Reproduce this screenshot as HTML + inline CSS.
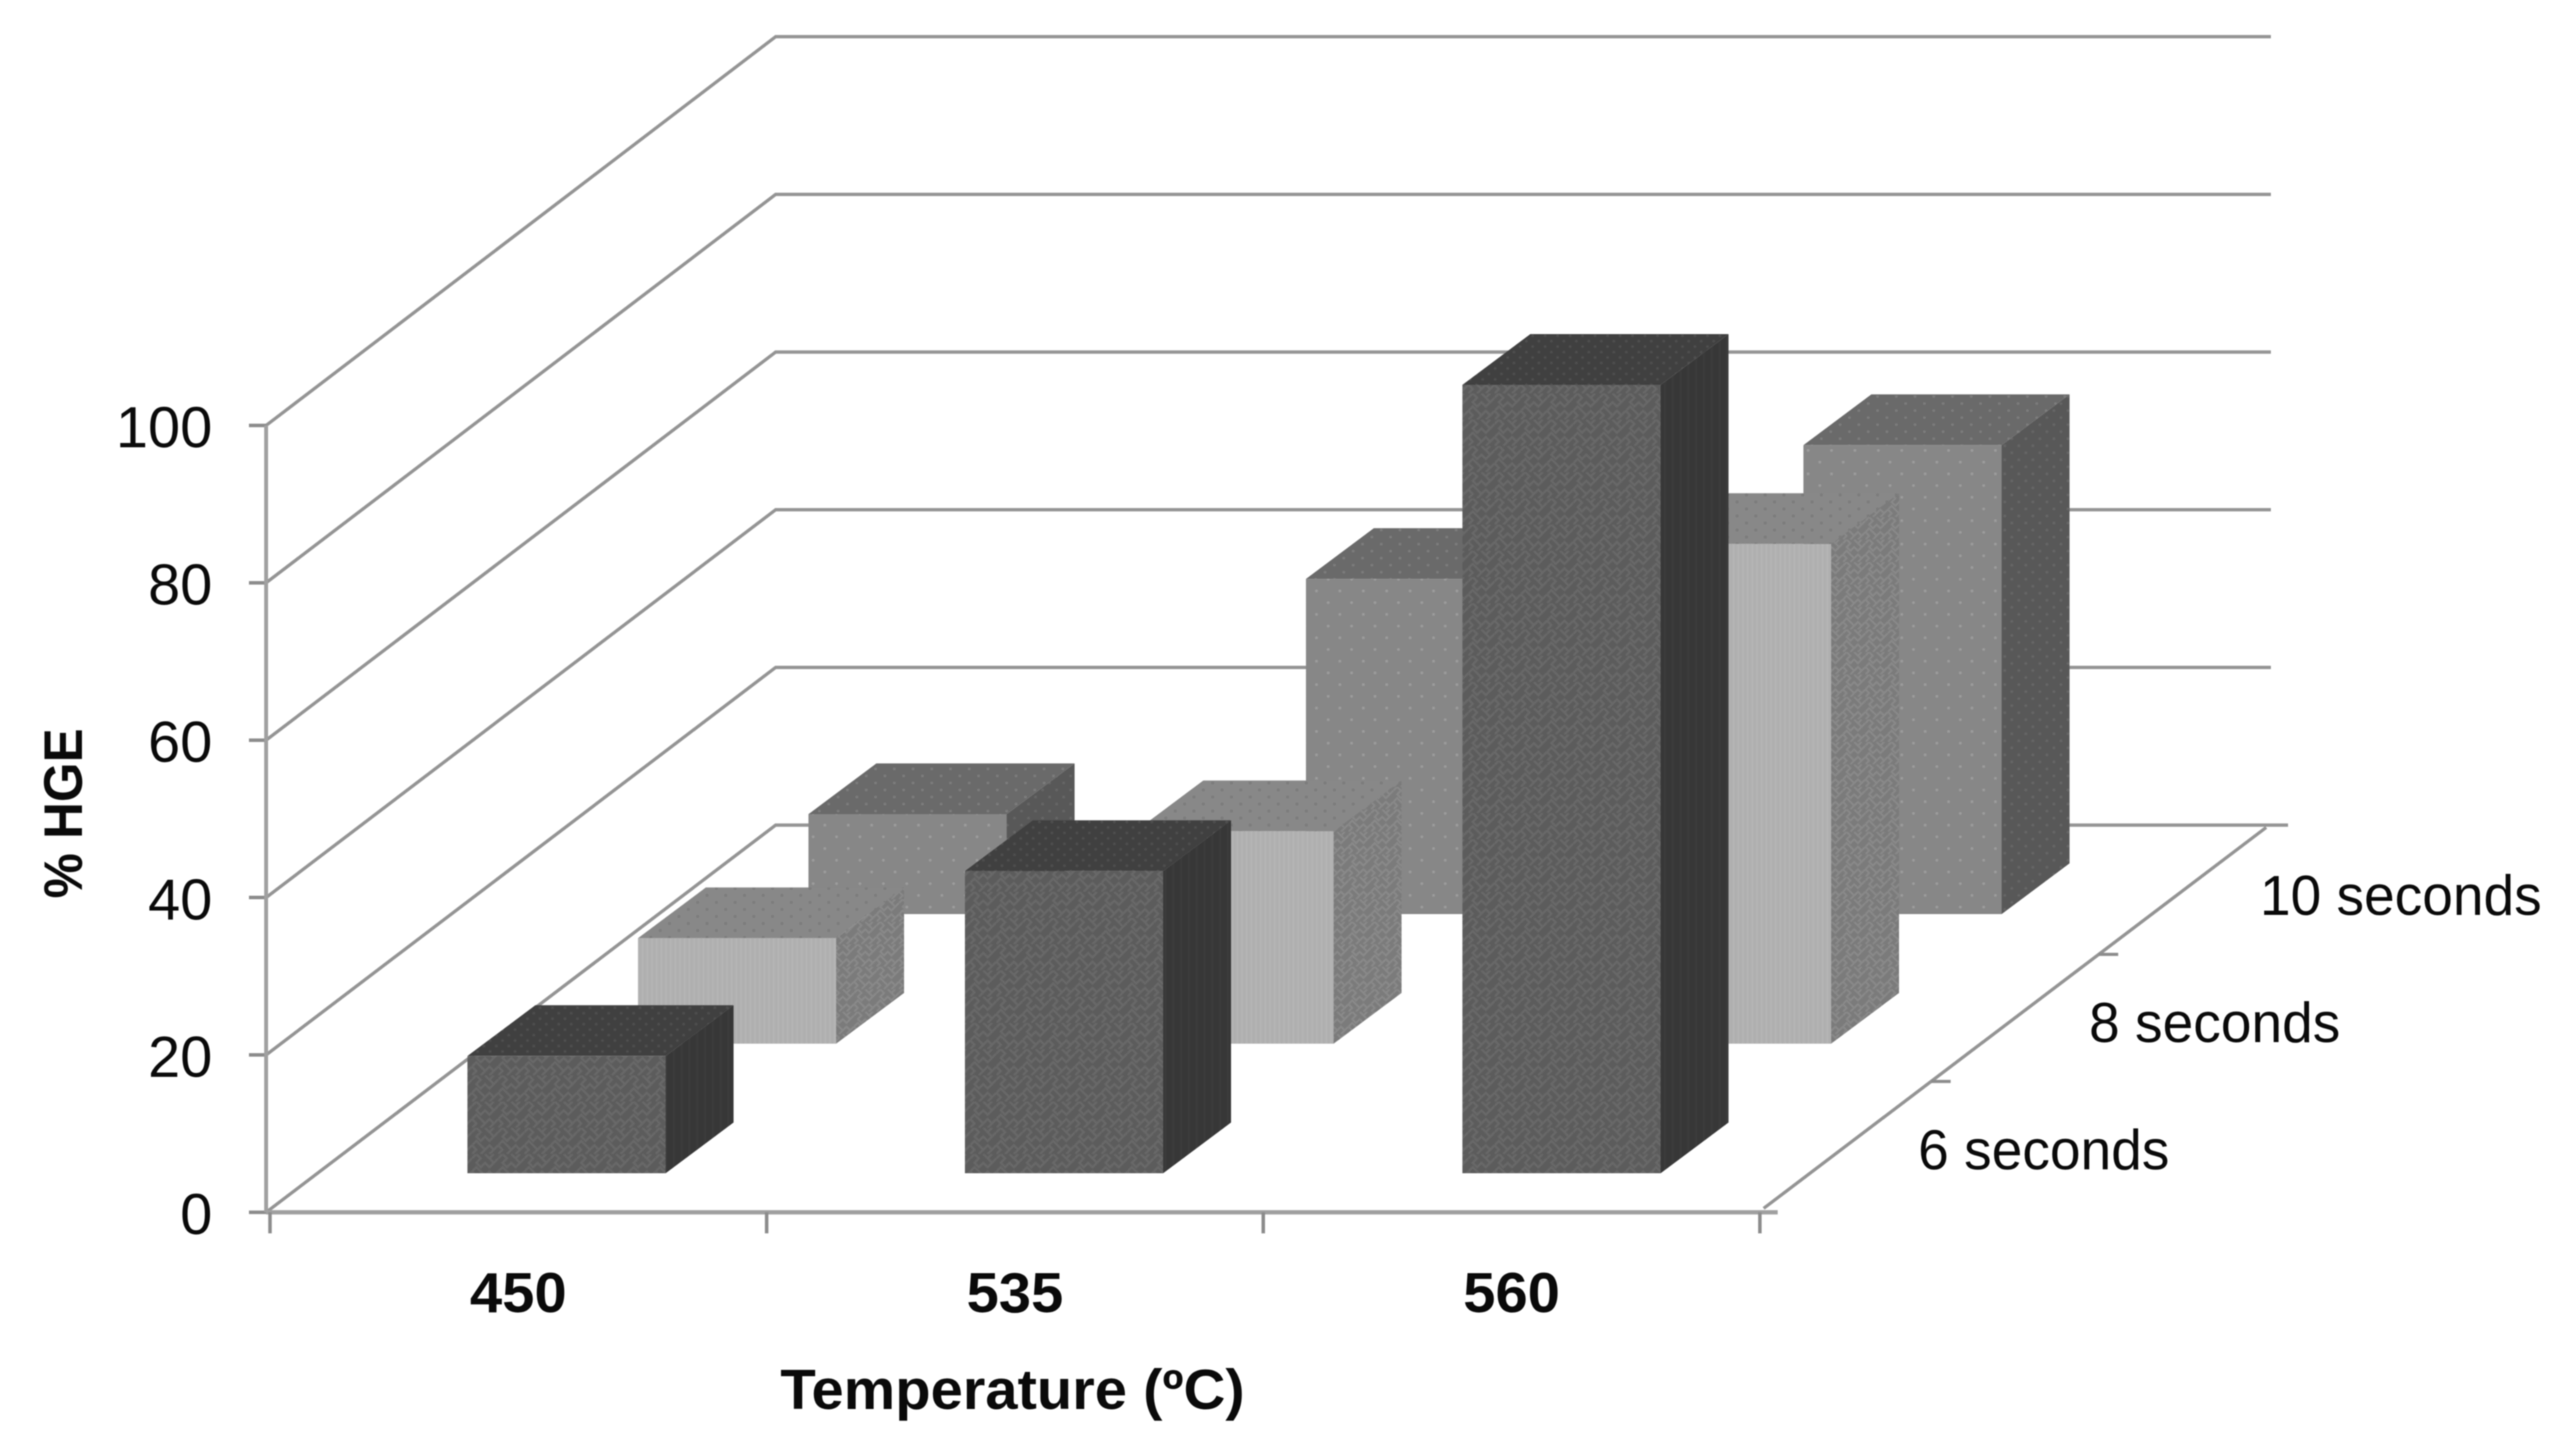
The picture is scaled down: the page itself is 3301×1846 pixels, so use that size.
<!DOCTYPE html>
<html lang="en">
<head>
<meta charset="utf-8">
<title>% HGE by temperature and time</title>
<style>
  html, body { margin: 0; padding: 0; background: #ffffff; }
  #chart { display: block; width: 3301px; height: 1846px; filter: blur(0.8px); }
  text { fill: #0a0a0a; font-family: "Liberation Sans", sans-serif; }
</style>
</head>
<body>
<svg id="chart" xmlns="http://www.w3.org/2000/svg" width="3301" height="1846" viewBox="0 0 3301 1846">
  <defs>
    <pattern id="p-dark-front" width="48" height="48" patternUnits="userSpaceOnUse" patternTransform="scale(0.7)">
      <rect width="48" height="48" fill="#5c5c5c"/>
      <path d="M0 8L8 0L16 8L8 16L16 24L24 16L32 24L40 16L32 8L40 0M48 8L40 16M0 32L8 24L16 32L24 40L16 48M0 32L8 40L0 48M24 40L32 32L40 40L48 32M32 48L40 40M24 0L32 8" fill="none" stroke="#686868" stroke-width="4"/>
    </pattern>
    <pattern id="p-dark-side" width="10" height="10" patternUnits="userSpaceOnUse">
      <rect width="10" height="10" fill="#373737"/>
      <rect x="2" y="0" width="3" height="10" fill="#3b3b3b"/>
    </pattern>
    <pattern id="p-dark-top" width="16" height="14" patternUnits="userSpaceOnUse">
      <rect width="16" height="14" fill="#404040"/>
      <circle cx="4" cy="3" r="1.8" fill="#4e4e4e"/>
      <circle cx="12" cy="10" r="1.8" fill="#4e4e4e"/>
    </pattern>
    <pattern id="p-light-front" width="6" height="6" patternUnits="userSpaceOnUse">
      <rect width="6" height="6" fill="#afafaf"/>
      <rect x="0" y="0" width="3" height="6" fill="#b4b4b4"/>
    </pattern>
    <pattern id="p-light-side" width="48" height="48" patternUnits="userSpaceOnUse" patternTransform="scale(0.6)">
      <rect width="48" height="48" fill="#7b7b7b"/>
      <path d="M0 8L8 0L16 8L8 16L16 24L24 16L32 24L40 16L32 8L40 0M48 8L40 16M0 32L8 24L16 32L24 40L16 48M0 32L8 40L0 48M24 40L32 32L40 40L48 32M32 48L40 40M24 0L32 8" fill="none" stroke="#898989" stroke-width="4"/>
    </pattern>
    <pattern id="p-light-top" width="24" height="18" patternUnits="userSpaceOnUse">
      <rect width="24" height="18" fill="#888888"/>
      <circle cx="6" cy="4" r="2" fill="#7c7c7c"/>
      <circle cx="18" cy="13" r="2" fill="#7c7c7c"/>
    </pattern>
    <pattern id="p-mid-front" width="30" height="30" patternUnits="userSpaceOnUse">
      <rect width="30" height="30" fill="#878787"/>
      <circle cx="7" cy="7" r="1.8" fill="#9c9c9c"/>
      <circle cx="22" cy="22" r="1.8" fill="#9c9c9c"/>
    </pattern>
    <pattern id="p-mid-side" width="18" height="18" patternUnits="userSpaceOnUse">
      <rect width="18" height="18" fill="#585858"/>
      <circle cx="4" cy="4" r="1.8" fill="#666666"/>
      <circle cx="13" cy="13" r="1.8" fill="#666666"/>
    </pattern>
    <pattern id="p-mid-top" width="24" height="18" patternUnits="userSpaceOnUse">
      <rect width="24" height="18" fill="#6a6a6a"/>
      <circle cx="6" cy="4" r="1.8" fill="#7c7c7c"/>
      <circle cx="18" cy="13" r="1.8" fill="#7c7c7c"/>
    </pattern>
  </defs>
  <g id="walls"></g>
  <g id="bars"></g>
  <g id="labels"></g>
</svg>
<script>
// ---- chart data ----
const categories = ['450', '535', '560'];
const seriesNames = ['6 seconds', '8 seconds', '10 seconds'];
const values6s = [14.9, 38.4, 100.2];
const values8s = [13.4, 27.0, 63.5];
const values10s = [12.7, 42.6, 59.6];
const yTicks = [0, 20, 40, 60, 80, 100];
const yTitle = '% HGE';
const xTitle = 'Temperature (ºC)';

const NS = 'http://www.w3.org/2000/svg';
const seriesValues = [values6s, values8s, values10s];
const seriesFills = [
  { front: 'url(#p-dark-front)', side: 'url(#p-dark-side)', top: 'url(#p-dark-top)' },
  { front: 'url(#p-light-front)', side: 'url(#p-light-side)', top: 'url(#p-light-top)' },
  { front: 'url(#p-mid-front)', side: 'url(#p-mid-side)', top: 'url(#p-mid-top)' }
];

// ---- axis functions ----
const unitFront = 10.08;
const unitBack = 10.1;
function yFrontWall(v) { return 1553 - v * unitFront; }
function yBackWall(v) { return 1057 - v * unitBack; }
function xTick(i) { return 346 + 636.4 * i; }
function xCatCenter(i) { return xTick(i + 0.5); }
function barLeft(c, s) { return 599 + 637.5 * c + 218.5 * s; }
function barBase(s) { return 1503 - 166 * s; }
function barTop(s, v) { return barBase(s) - v * unitFront; }
function depthX(t) { return 2260 + (2904 - 2260) * t; }
function depthY(t) { return 1548 + (1060 - 1548) * t; }
const barW = 254, depthDX = 87, depthDY = 65;

function mk(parent, tag, attrs, text) {
  const el = document.createElementNS(NS, tag);
  for (const k in attrs) el.setAttribute(k, attrs[k]);
  if (text !== undefined) el.textContent = text;
  parent.appendChild(el);
  return el;
}
function slug(s) { return s.toLowerCase().replace(/[^a-z0-9]+/g, '-'); }

const walls = document.getElementById('walls');
const barsG = document.getElementById('bars');
const labels = document.getElementById('labels');
const lineColor = '#949494';

// ---- gridlines and wall ticks ----
yTicks.forEach(function (v) {
  const g = mk(walls, 'polyline', {
    points: '341,' + yFrontWall(v) + ' 994,' + yBackWall(v) + ' ' + (v === 0 ? 2932 : 2910) + ',' + yBackWall(v),
    fill: 'none', stroke: lineColor, 'stroke-width': 4.2
  });
  
  

  const t = mk(walls, 'line', {
    x1: 319, x2: 341, y1: yFrontWall(v), y2: yFrontWall(v),
    stroke: '#8c8c8c', 'stroke-width': 4.5
  });
  
  

  const lab = mk(labels, 'text', {
    x: 272, y: yFrontWall(v) + 28, 'text-anchor': 'end', 'font-size': 74
  }, String(v));
  
  
});

// ---- axes ----
const yAxis = mk(walls, 'line', { x1: 341, x2: 341, y1: yFrontWall(100), y2: yFrontWall(0), stroke: '#a0a0a0', 'stroke-width': 5 });



const xAxis = mk(walls, 'line', { x1: 341, x2: 2278, y1: 1553, y2: 1553, stroke: '#a0a0a0', 'stroke-width': 5.5 });



const depthAxis = mk(walls, 'line', { x1: depthX(0), y1: depthY(0), x2: depthX(1), y2: depthY(1), stroke: lineColor, 'stroke-width': 4.2 });



[0, 1, 2, 3].forEach(function (i) {
  const t = mk(walls, 'line', { x1: xTick(i), x2: xTick(i), y1: 1553, y2: 1580, stroke: '#8c8c8c', 'stroke-width': 4.5 });
  
  
});

[1, 2].forEach(function (k) {
  const t = mk(walls, 'line', { x1: depthX(k / 3), x2: depthX(k / 3) + 25, y1: depthY(k / 3), y2: depthY(k / 3), stroke: '#8c8c8c', 'stroke-width': 4 });
  
  
});

// ---- bars, back series first ----
for (let s = seriesNames.length - 1; s >= 0; s--) {
  categories.forEach(function (cat, c) {
    const v = seriesValues[s][c];
    const L = barLeft(c, s), R = L + barW, B = barBase(s), T = barTop(s, v);
    const g = mk(barsG, 'g', {});
    
    

    const side = mk(g, 'polygon', {
      points: R + ',' + T + ' ' + (R + depthDX) + ',' + (T - depthDY) + ' ' + (R + depthDX) + ',' + (B - depthDY) + ' ' + R + ',' + B,
      fill: seriesFills[s].side
    });
    
    

    const top = mk(g, 'polygon', {
      points: L + ',' + T + ' ' + (L + depthDX) + ',' + (T - depthDY) + ' ' + (R + depthDX) + ',' + (T - depthDY) + ' ' + R + ',' + T,
      fill: seriesFills[s].top
    });
    
    

    const front = mk(g, 'rect', { x: L, y: T, width: barW, height: B - T, fill: seriesFills[s].front });
    
    
  });
}

// ---- category labels ----
categories.forEach(function (cat, i) {
  const t = mk(labels, 'text', {
    x: xCatCenter(i), y: 1681, 'text-anchor': 'middle', 'font-size': 72, 'font-weight': 'bold',
    textLength: 124, lengthAdjust: 'spacingAndGlyphs'
  }, cat);
  
  
});

// ---- series labels on depth axis ----
seriesNames.forEach(function (name, s) {
  const t = mk(labels, 'text', {
    x: 2458 + 219 * s, y: 1498 - 163 * s, 'font-size': 72,
    textLength: s === 2 ? 361 : 322, lengthAdjust: 'spacingAndGlyphs'
  }, name);
  
  
});

// ---- axis titles ----
const xT = mk(labels, 'text', {
  x: 1000, y: 1805, 'font-size': 72, 'font-weight': 'bold',
  textLength: 595, lengthAdjust: 'spacingAndGlyphs'
}, xTitle);



const yT = mk(labels, 'text', {
  transform: 'translate(105,1042) rotate(-90)', x: 0, y: 0, 'text-anchor': 'middle', 'font-size': 70, 'font-weight': 'bold',
  textLength: 218, lengthAdjust: 'spacingAndGlyphs'
}, yTitle);


</script>
</body>
</html>
